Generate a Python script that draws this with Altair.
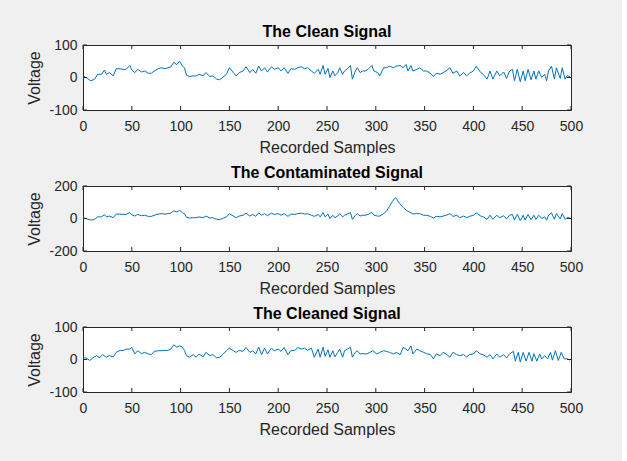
import altair as alt
import pandas as pd

# ---- data ----
x_ticks = [0, 50, 100, 150, 200, 250, 300, 350, 400, 450, 500]
y_ticks_small = [-100, 0, 100]
y_ticks_big = [-200, 0, 200]

clean_x = [0, 3, 8, 12, 15, 19, 22, 24, 27, 31, 34, 38, 41, 44, 48, 50, 53, 56, 60, 63,
           67, 70, 73, 77, 80, 84, 87, 90, 93, 96, 99, 102, 104, 106, 109, 113, 116, 119, 123, 126,
           130, 133, 137, 140, 143, 147, 150, 154, 157, 160, 164, 167, 171, 174, 177, 180, 183, 186, 189, 193,
           196, 200, 203, 206, 210, 213, 217, 220, 224, 227, 230, 234, 237, 241, 243, 246, 248, 251, 253, 256,
           258, 261, 263, 266, 268, 271, 274, 276, 279, 281, 284, 286, 289, 292, 296, 298, 302, 304, 308, 311,
           314, 318, 321, 325, 328, 331, 333, 336, 338, 342, 345, 349, 352, 356, 359, 362, 366, 369, 372, 376,
           379, 383, 386, 390, 393, 396, 400, 403, 407, 410, 414, 417, 420, 424, 427, 431, 434, 437, 440, 442,
           445, 448, 451, 453, 456, 459, 462, 464, 467, 470, 473, 475, 477, 480, 483, 485, 489, 491, 494, 496, 499]
clean_y = [5, 0, -10, -5, 10, 10, 23, 10, 15, 5, 27, 27, 25, 25, 37, 23, 15, 25, 17, 20,
           13, 13, 20, 27, 30, 27, 30, 33, 47, 40, 50, 35, 30, 7, 3, 5, 5, 10, 5, 15,
           3, 5, -5, -7, 0, 10, 30, 15, 5, 15, 20, 33, 15, 25, 13, 35, 20, 30, 17, 33,
           25, 30, 20, 30, 13, 27, 25, 30, 33, 27, 30, 20, 13, 25, 10, 37, 10, 28, 0, 20,
           5, 15, 30, 10, 20, 27, 37, -5, 20, 30, 15, 20, 20, 25, 37, 20, 15, 5, 30, 30,
           35, 30, 35, 37, 30, 40, 20, 37, 20, 25, 30, 20, 20, 13, 3, 13, 10, 15, 20, 30,
           13, 20, 5, 15, 5, 13, 20, 35, 17, 10, -5, 20, -5, 20, 5, 17, -3, 20, 25, -10,
           25, -13, 20, -10, 25, -7, 20, -5, 20, 0, 10, -10, 20, 35, -5, 30, -3, 30, -5, 5, 3]

cont_x = [0, 3, 8, 12, 15, 19, 22, 24, 27, 31, 34, 38, 41, 44, 48, 50, 53, 56, 60, 63,
          67, 70, 73, 77, 80, 84, 87, 90, 93, 96, 99, 102, 104, 106, 109, 113, 116, 119, 123, 126,
          130, 133, 137, 140, 143, 147, 150, 154, 157, 160, 164, 167, 171, 174, 177, 180, 183, 186, 189, 193,
          196, 200, 203, 206, 210, 213, 217, 220, 224, 227, 230, 234, 237, 241, 243, 246, 248, 251, 253, 256,
          258, 261, 263, 266, 268, 271, 274, 276, 279, 281, 284, 286, 289, 292, 296, 298, 302, 304, 308, 311,
          314, 317, 320, 322, 324, 327, 329, 332, 336, 338, 342, 345, 349, 352, 356, 359, 362, 366, 369, 372, 376,
          379, 383, 386, 390, 393, 396, 400, 403, 407, 410, 414, 417, 420, 424, 427, 431, 434, 437, 440, 442,
          445, 448, 451, 453, 456, 459, 462, 464, 467, 470, 473, 475, 477, 480, 483, 485, 489, 491, 494, 496, 499]
cont_y = [5, 0, -10, -5, 10, 10, 23, 10, 15, 5, 27, 27, 25, 25, 37, 23, 15, 25, 17, 20,
          13, 13, 20, 27, 30, 27, 30, 33, 47, 40, 50, 35, 30, 7, 3, 5, 5, 10, 5, 15,
          3, 5, -5, -7, 0, 10, 30, 15, 5, 15, 20, 33, 15, 25, 13, 35, 20, 30, 17, 33,
          25, 30, 20, 30, 13, 27, 25, 30, 33, 27, 30, 20, 13, 25, 10, 37, 10, 28, 0, 20,
          5, 15, 30, 10, 20, 27, 37, -5, 20, 30, 15, 20, 20, 25, 37, 20, 15, 15, 30, 45,
          75, 105, 128, 115, 95, 75, 62, 48, 35, 28, 30, 30, 20, 20, 13, 3, 13, 10, 15, 20, 30,
          13, 20, 5, 15, 5, 13, 20, 35, 17, 10, -5, 20, -5, 20, 5, 17, -3, 20, 25, -10,
          25, -13, 20, -10, 25, -7, 20, -5, 20, 0, 10, -10, 20, 35, -5, 30, -3, 30, -5, 5, 3]

cleaned_x = [0, 3, 7, 10, 14, 17, 20, 24, 27, 31, 34, 38, 41, 44, 48, 50, 53, 56, 60, 63,
             67, 70, 73, 77, 80, 84, 87, 90, 93, 96, 99, 102, 104, 106, 109, 113, 116, 119, 123, 126,
             130, 133, 137, 140, 143, 147, 150, 154, 157, 160, 164, 167, 171, 174, 177, 180, 183, 186, 189, 193,
             196, 200, 203, 206, 210, 213, 217, 220, 224, 227, 230, 234, 237, 241, 243, 246, 248, 251, 253, 256,
             258, 261, 263, 266, 268, 271, 274, 276, 279, 281, 284, 287, 291, 294, 297, 301, 304, 308, 311, 314,
             318, 321, 325, 328, 331, 333, 336, 338, 342, 345, 349, 352, 356, 359, 362, 366, 369, 372, 376, 379,
             383, 386, 390, 393, 396, 400, 403, 407, 410, 414, 417, 420, 424, 427, 431, 434, 437, 441, 443, 446,
             448, 451, 454, 457, 460, 462, 465, 468, 470, 473, 476, 479, 481, 484, 487, 490, 493, 496, 499]
cleaned_y = [5, 5, -3, 5, 12, 5, 15, 7, 12, 8, 22, 28, 27, 32, 32, 37, 17, 27, 18, 22,
             17, 15, 25, 27, 27, 28, 28, 32, 45, 38, 42, 37, 28, 12, 7, 15, 7, 17, 8, 22,
             12, 15, 5, 7, 15, 27, 35, 27, 22, 28, 25, 37, 22, 27, 17, 38, 15, 35, 17, 35,
             27, 32, 25, 37, 15, 27, 28, 37, 32, 35, 28, 35, 7, 32, 7, 38, 10, 30, 7, 27,
             8, 22, 32, 7, 27, 32, 38, 7, 22, 27, 17, 18, 17, 22, 27, 17, 22, 27, 25, 22,
             17, 22, 15, 37, 32, 27, 42, 17, 32, 27, 22, 18, 15, 2, 17, 12, 22, 17, 7, 22,
             15, 12, 15, 8, 15, 17, 27, 17, 15, 7, 15, 2, 17, 7, 15, 5, 17, 25, -5, 22,
             -8, 22, -5, 22, -5, 18, -5, 17, 2, 12, 2, 22, -2, 27, -3, 22, 2, 2, -2]

# ---- styling ----
W, H = 488, 65
BLUE = "#0072BD"
DARK = "#262626"
FONT = "Liberation Sans"
TICK_LEN = 4


def panel(xs, ys, title, yticks):
    lim = max(yticks)
    df = pd.DataFrame({"sample": xs, "voltage": ys})
    xscale = alt.Scale(domain=[0, 500], nice=False, zero=False)
    yscale = alt.Scale(domain=[-lim, lim], nice=False, zero=False)
    xaxis = alt.Axis(values=x_ticks, title="Recorded Samples", grid=False,
                     domain=False, ticks=False, labelPadding=9, titlePadding=6,
                     labelFontSize=14, titleFontSize=16, labelFont=FONT,
                     titleFont=FONT, labelColor=DARK, titleColor=DARK,
                     titleFontWeight="normal", labelFlush=False)
    yaxis = alt.Axis(values=yticks, title="Voltage", grid=False, domain=False,
                     ticks=False, labelPadding=6, titlePadding=6,
                     labelFontSize=14, titleFontSize=16, labelFont=FONT,
                     titleFont=FONT, labelColor=DARK, titleColor=DARK,
                     titleFontWeight="normal", labelFlush=False,
                     labelExpr="'' + datum.value")
    line = alt.Chart(df).mark_line(color=BLUE, strokeWidth=1).encode(
        x=alt.X("sample:Q", scale=xscale, axis=xaxis),
        y=alt.Y("voltage:Q", scale=yscale, axis=yaxis),
    )
    xt = pd.DataFrame({"sample": x_ticks})
    yt = pd.DataFrame({"voltage": yticks})
    xb = alt.Chart(xt).mark_rule(color=DARK, strokeWidth=1).encode(
        x=alt.X("sample:Q", scale=xscale, axis=xaxis), y=alt.value(H - TICK_LEN), y2=alt.value(H))
    xtop = alt.Chart(xt).mark_rule(color=DARK, strokeWidth=1).encode(
        x=alt.X("sample:Q", scale=xscale, axis=xaxis), y=alt.value(0), y2=alt.value(TICK_LEN))
    yl = alt.Chart(yt).mark_rule(color=DARK, strokeWidth=1).encode(
        y=alt.Y("voltage:Q", scale=yscale, axis=yaxis), x=alt.value(0), x2=alt.value(TICK_LEN))
    yr = alt.Chart(yt).mark_rule(color=DARK, strokeWidth=1).encode(
        y=alt.Y("voltage:Q", scale=yscale, axis=yaxis), x=alt.value(W - TICK_LEN), x2=alt.value(W))
    return alt.layer(line, xb, xtop, yl, yr).properties(
        width=W, height=H,
        title=alt.TitleParams(title, fontSize=16, fontWeight="bold", font=FONT,
                              color="#000000", offset=-2),
    )


p1 = panel(clean_x, clean_y, "The Clean Signal", y_ticks_small)
p2 = panel(cont_x, cont_y, "The Contaminated Signal", y_ticks_big)
p3 = panel(cleaned_x, cleaned_y, "The Cleaned Signal", y_ticks_small)

chart = alt.vconcat(p1, p2, p3, spacing=76, bounds="flush").properties(
    background="#f0f0f0",
    padding={"left": 26, "top": 23, "right": 38, "bottom": 25},
).configure_view(fill="white", stroke=DARK, strokeWidth=1)

chart.save("out.html", embed_options={"renderer": "svg", "actions": False})
